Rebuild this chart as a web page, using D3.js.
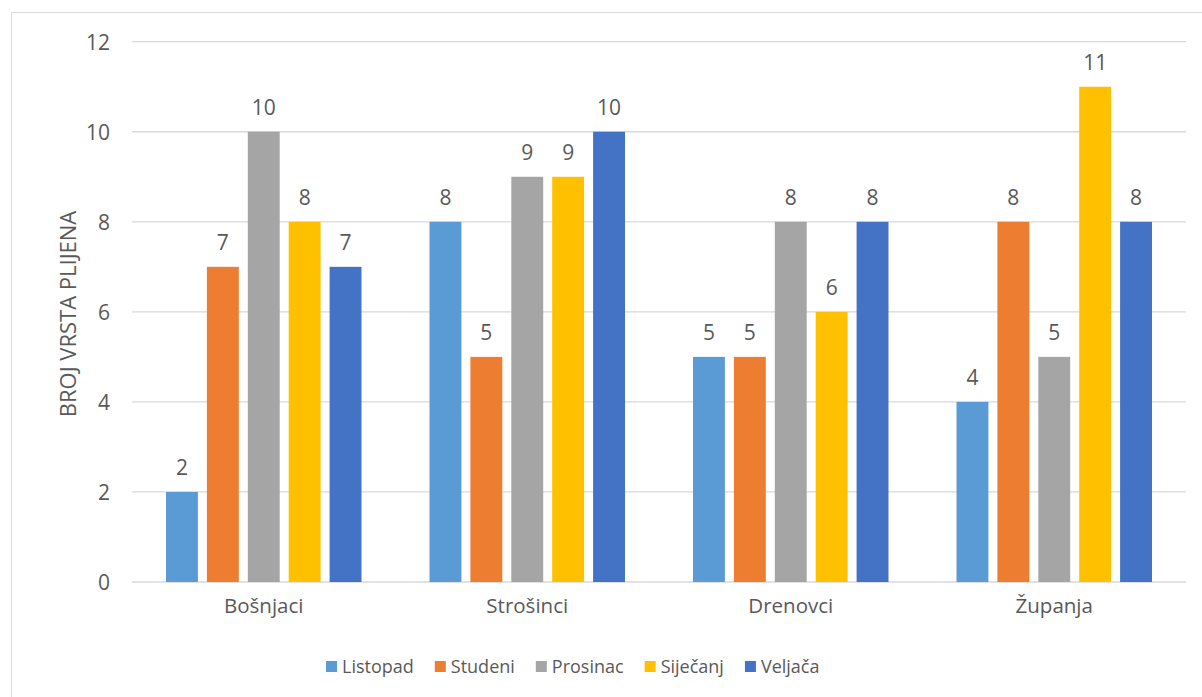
<!DOCTYPE html>
<html>
<head>
<meta charset="utf-8">
<script src="https://cdn.jsdelivr.net/npm/d3@7"></script>
<style>
  body { margin: 0; background: #fff; }
  text { font-family: "Open Sans", "Noto Sans", sans-serif; fill: #595959; }
</style>
</head>
<body>
<svg id="chart" width="1202" height="697"></svg>
<script>
// podaci
var categories = ["Bošnjaci", "Strošinci", "Drenovci", "Županja"];
var months = ["Listopad", "Studeni", "Prosinac", "Siječanj", "Veljača"];
var listopad = [2, 8, 5, 4];
var studeni = [7, 5, 5, 8];
var prosinac = [10, 9, 8, 5];
var sijecanj = [8, 9, 6, 11];
var veljaca = [7, 10, 8, 8];
var yTicks = [0, 2, 4, 6, 8, 10, 12];
var colors = ["#5B9BD5", "#ED7D31", "#A5A5A5", "#FFC000", "#4472C4"];

var series = [listopad, studeni, prosinac, sijecanj, veljaca];

var svg = d3.select("#chart");

// okvir
svg.append("rect")
  .attr("x", 11.5).attr("y", 12.5)
  .attr("width", 1200).attr("height", 700)
  .attr("fill", "#fff")
  .attr("stroke", "#d9d9d9");

var plotLeft = 132, plotRight = 1186, plotTop = 41.7, plotBottom = 582;

var y = d3.scaleLinear().domain([0, 12]).range([plotBottom, plotTop]);
var x0 = d3.scaleBand().domain(categories).range([plotLeft, plotRight]).padding(0);
var x1 = d3.scaleBand().domain(months)
  .range([34, x0.bandwidth() - 34])
  .paddingInner(0.22).paddingOuter(0);
var color = d3.scaleOrdinal().domain(months).range(colors);

// mreza
var grid = svg.append("g");
grid.selectAll("line")
  .data(yTicks)
  .enter()
  .append("line")
  .attr("x1", plotLeft).attr("x2", plotRight)
  .attr("y1", function(d){ return y(d); })
  .attr("y2", function(d){ return y(d); })
  .attr("stroke", "#d9d9d9")
  .attr("stroke-width", 1.3);

// y os
var yAxis = svg.append("g")
  .attr("transform", "translate(" + (plotLeft - 22) + ",0)")
  .call(d3.axisLeft(y).tickValues(yTicks).tickSize(0).tickPadding(0));
yAxis.select(".domain").remove();
yAxis.selectAll("text")
  .style("font-size", "21px")
  .attr("dy", "0.36em")
  .attr("fill", "#595959");

// x os
var xAxis = svg.append("g")
  .attr("transform", "translate(0," + plotBottom + ")")
  .call(d3.axisBottom(x0).tickSize(0).tickPadding(0));
xAxis.select(".domain").remove();
xAxis.selectAll("text")
  .style("font-size", "20.5px")
  .attr("y", 31)
  .attr("dy", 0)
  .attr("fill", "#595959");
svg.selectAll(".tick text").attr("font-family", null);

// stupci
var rows = categories.map(function(c, ci){
  return months.map(function(m, mi){ return {cat: c, month: m, value: series[mi][ci]}; });
});

var groups = svg.append("g").selectAll("g")
  .data(rows)
  .enter()
  .append("g")
  .attr("transform", function(d, i){ return "translate(" + x0(categories[i]) + ",0)"; });

groups.selectAll("rect")
  .data(function(d){ return d; })
  .enter()
  .append("rect")
  .attr("x", function(d){ return x1(d.month); })
  .attr("width", x1.bandwidth())
  .attr("y", function(d){ return y(d.value); })
  .attr("height", function(d){ return y(0) - y(d.value); })
  .attr("fill", function(d){ return color(d.month); });

groups.selectAll("text")
  .data(function(d){ return d; })
  .enter()
  .append("text")
  .attr("x", function(d){ return x1(d.month) + x1.bandwidth() / 2; })
  .attr("y", function(d){ return y(d.value) - 17; })
  .attr("text-anchor", "middle")
  .style("font-size", "21px")
  .text(function(d){ return d.value; });

// naslov y osi
svg.append("text")
  .attr("transform", "translate(76,314) rotate(-90)")
  .attr("text-anchor", "middle")
  .style("font-size", "22px")
  .text("BROJ VRSTA PLIJENA");

// legenda
var legend = svg.append("g").attr("transform", "translate(326,673)");
var lx = 0;
months.forEach(function(m){
  var item = legend.append("g").attr("transform", "translate(" + lx + ",0)");
  item.append("rect")
    .attr("x", 0).attr("y", -12)
    .attr("width", 11).attr("height", 11)
    .attr("fill", color(m));
  var t = item.append("text")
    .attr("x", 16).attr("y", 0)
    .style("font-size", "18px")
    .text(m);
  lx += 16 + t.node().getComputedTextLength() + 21;
});
</script>
</body>
</html>
